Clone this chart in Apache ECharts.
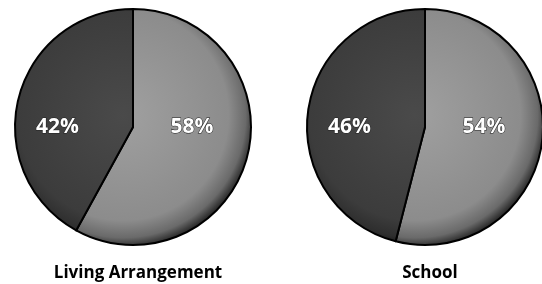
<!DOCTYPE html>
<html>
<head>
<meta charset="utf-8">
<script src="https://cdn.jsdelivr.net/npm/echarts@6/dist/echarts.min.js"></script>
<style>
  html, body { margin: 0; padding: 0; background: #fff; }
  #chart { width: 542px; height: 284px; }
</style>
</head>
<body>
<div id="chart"></div>
<script>
  // values (clockwise from 12 o'clock: light part first)
  const pieTitles = ['Living Arrangement', 'School']
  const sliceNames = ['Other', 'Share']
  const livingValues = [58, 42]
  const schoolValues = [54, 46]

  const centers = [[133, 127], [425, 127]]
  const radius = 118

  // gradient in page pixels so the rim shading follows the whole circle
  function fill(c, light) {
    return {
      type: 'radial', x: c[0] - 10, y: c[1] - 12, r: radius + 14, global: true,
      colorStops: light ? [
        { offset: 0, color: '#a0a0a0' },
        { offset: 0.8, color: '#8c8c8c' },
        { offset: 0.93, color: '#6a6a6a' },
        { offset: 1, color: '#2e2e2e' }
      ] : [
        { offset: 0, color: '#4a4a4a' },
        { offset: 0.8, color: '#3c3c3c' },
        { offset: 0.93, color: '#2e2e2e' },
        { offset: 1, color: '#151515' }
      ]
    }
  }

  function makeSeries(values, idx) {
    const c = centers[idx]
    return {
      type: 'pie',
      center: c,
      radius: radius,
      startAngle: 90,
      clockwise: true,
      silent: true,
      data: values.map((v, i) => ({
        name: sliceNames[i],
        value: v,
        itemStyle: { color: fill(c, i === 0) }
      })),
      itemStyle: { borderColor: '#000', borderWidth: 2 },
      label: {
        show: true,
        position: 'inside',
        formatter: '{c}%',
        color: '#fff',
        fontFamily: 'Open Sans',
        fontWeight: 'bold',
        fontSize: 21,
        textBorderColor: '#222',
        textBorderWidth: 1
      },
      labelLine: { show: false },
      labelLayout: (p) => ({
        x: c[0] + (p.dataIndex === 0 ? 0.5 : -0.64) * radius,
        y: c[1],
        align: 'center',
        verticalAlign: 'middle'
      })
    }
  }

  const chart = echarts.init(document.getElementById('chart'))
  chart.setOption({
    animation: false,
    title: pieTitles.map((t, i) => ({
      text: t,
      left: centers[i][0],
      top: 260,
      textAlign: 'center',
      textStyle: { fontFamily: 'Open Sans', fontWeight: 'bold', fontSize: 17, color: '#000' }
    })),
    series: [makeSeries(livingValues, 0), makeSeries(schoolValues, 1)]
  })
</script>
</body>
</html>
